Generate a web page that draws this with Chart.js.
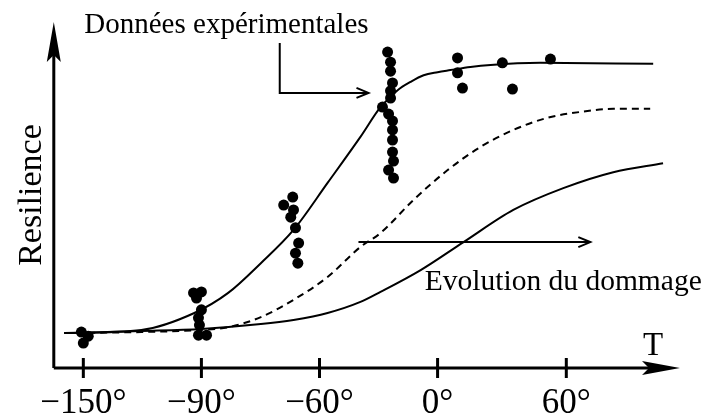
<!DOCTYPE html>
<html>
<head>
<meta charset="utf-8">
<script src="https://cdn.jsdelivr.net/npm/chart.js@4"></script>
<style>
  body { margin: 0; background: #fff; }
  #wrap { width: 702px; height: 417px; }
</style>
</head>
<body>
<div id="wrap"><canvas id="resChart"></canvas></div>
<script>
// temperature axis (schematic, ticks are evenly spaced but not linear in degrees)
const tickDeg = [-150, -90, -60, 0, 60];
const tickLabels = ['\u2212150\u00b0', '\u221290\u00b0', '\u221260\u00b0', '0\u00b0', '60\u00b0'];
const tickSlot = [0, 1, 2, 3, 4.09];

// experimental points [T, resilience]
const expT = [-151, -147.5, -150,
  -94, -90, -92.5, -90, -91.5, -91, -91.5, -88.7,
  -66.8, -69.1, -66.6, -67.3, -66.1, -65.3, -66.1, -65.5,
  -25.4, -23.9, -23.9, -22.9, -23.9, -23.9, -28, -24.9, -22.9, -22.9, -22.9, -22.9, -22.4, -24.9, -22.4,
  9.3, 9.3, 11.6, 30.2, 34.9, 52.6];
const expR = [10.4, 9.2, 7.2,
  21.7, 22.0, 20.2, 16.8, 14.5, 12.4, 9.5, 9.5,
  49.4, 47.1, 45.7, 43.6, 40.5, 36.1, 33.2, 30.3,
  91.3, 88.4, 85.8, 82.4, 80.1, 78.0, 75.4, 73.4, 71.4, 68.8, 65.9, 62.4, 59.8, 57.2, 54.9,
  89.6, 85.3, 80.9, 88.2, 80.6, 89.3];

// fitted curve through the data
const fitT = [-159.7, -120.5, -93.6, -83.2, -74.9, -66.6, -55.9, -39.2, -29, -23.9, -20.3, -13.7, -7.1, 0, 6, 15.3, 24.7, 47.9, 100.5];
const fitR = [10.1, 11.0, 15.9, 21.7, 30.3, 39.9, 53.5, 66.8, 75.4, 78.3, 80.3, 82.7, 84.6, 85.5, 86.1, 87.0, 87.6, 88.2, 87.9];

// intermediate damage (dashed)
const midT = [-159.7, -120.5, -90, -83.2, -74.9, -66.6, -55.9, -39.2, -29, -12.2, 4.7, 20, 35.3, 51.2, 66.5, 81.9, 99.1];
const midR = [10.1, 10.4, 11.0, 11.8, 14.7, 19.7, 26.3, 35.0, 39.0, 48.6, 57.2, 63.9, 68.8, 72.3, 74.0, 74.9, 74.9];

// strong damage
const lowT = [-159.7, -120.5, -90, -74.9, -66.6, -55.9, -39.2, -29, -8.6, 12.1, 35.3, 58.6, 81.9, 105.1];
const lowR = [10.1, 10.7, 11.3, 12.7, 13.9, 15.9, 19.1, 22.0, 28.3, 36.4, 45.7, 52.0, 56.6, 59.2];

const toPts = (xs, ys) => xs.map((x, i) => ({ x: x, y: ys[i] }));

function toSlot(v) {
  let i = 0;
  while (i < tickDeg.length - 2 && v > tickDeg[i + 1]) i++;
  const f = (v - tickDeg[i]) / (tickDeg[i + 1] - tickDeg[i]);
  return tickSlot[i] + f * (tickSlot[i + 1] - tickSlot[i]);
}

class SchematicScale extends Chart.LinearScale {
  getPixelForValue(value) {
    const a = toSlot(this.min), b = toSlot(this.max);
    return this.getPixelForDecimal((toSlot(value) - a) / (b - a));
  }
}
SchematicScale.id = 'schematic';
SchematicScale.defaults = Chart.LinearScale.defaults;
Chart.register(SchematicScale);

const serif = 'Liberation Serif';

const decorations = {
  id: 'decorations',
  afterDraw(chart) {
    const ctx = chart.ctx;
    const xs = chart.scales.x, ys = chart.scales.y;
    const X = v => xs.getPixelForValue(v);
    const Y = v => ys.getPixelForValue(v);
    const ox = chart.chartArea.left, oy = chart.chartArea.bottom;
    const top = chart.chartArea.top, right = chart.chartArea.right;
    ctx.save();
    ctx.strokeStyle = '#000';
    ctx.fillStyle = '#000';

    // axes
    ctx.lineWidth = 3;
    ctx.beginPath();
    ctx.moveTo(ox, oy); ctx.lineTo(ox, top + 30);
    ctx.moveTo(ox, oy); ctx.lineTo(right - 30, oy);
    ctx.stroke();
    ctx.beginPath();
    ctx.moveTo(ox, top); ctx.lineTo(ox - 7, top + 40); ctx.lineTo(ox, top + 33); ctx.lineTo(ox + 7, top + 40);
    ctx.closePath(); ctx.fill();
    ctx.beginPath();
    ctx.moveTo(right, oy); ctx.lineTo(right - 38, oy - 7); ctx.lineTo(right - 31, oy); ctx.lineTo(right - 38, oy + 7);
    ctx.closePath(); ctx.fill();

    // tick marks across the axis
    ctx.lineWidth = 3;
    tickDeg.forEach(t => {
      ctx.beginPath();
      ctx.moveTo(X(t), oy - 10); ctx.lineTo(X(t), oy + 10);
      ctx.stroke();
    });

    // annotations
    ctx.font = '29px "' + serif + '"';
    ctx.textBaseline = 'alphabetic';
    ctx.textAlign = 'left';
    ctx.fillText('Donn\u00e9es exp\u00e9rimentales', X(-149.5), Y(96.8));
    ctx.font = '29.5px "' + serif + '"';
    ctx.fillText('Evolution du dommage', X(-6.5), Y(22.5));
    ctx.font = '33px "' + serif + '"';
    ctx.fillText('T', X(95.8), Y(3.76));

    ctx.lineWidth = 2;
    ctx.beginPath();
    ctx.moveTo(X(-70.1), Y(93.9)); ctx.lineTo(X(-70.1), Y(79.5)); ctx.lineTo(X(-35.1), Y(79.5));
    ctx.moveTo(X(-40.2), Y(36.4)); ctx.lineTo(X(71.2), Y(36.4));
    ctx.stroke();
    [[X(-35.1), Y(79.5)], [X(71.2), Y(36.4)]].forEach(([hx, hy]) => {
      ctx.beginPath();
      ctx.moveTo(hx - 12, hy - 5); ctx.lineTo(hx, hy); ctx.lineTo(hx - 12, hy + 5);
      ctx.stroke();
    });
    ctx.restore();
  }
};

const lineStyle = {
  showLine: true,
  pointRadius: 0,
  borderColor: '#000',
  borderWidth: 2,
  fill: false,
  cubicInterpolationMode: 'monotone'
};

const ctx = document.getElementById('resChart').getContext('2d');
const resChart = new Chart(ctx, {
  type: 'scatter',
  data: {
    datasets: [
      Object.assign({ label: 'Ajustement', data: toPts(fitT, fitR) }, lineStyle),
      Object.assign({ label: 'Dommage 1', data: toPts(midT, midR), borderDash: [7, 5] }, lineStyle),
      Object.assign({ label: 'Dommage 2', data: toPts(lowT, lowR) }, lineStyle),
      {
        label: 'Donn\u00e9es exp\u00e9rimentales',
        data: toPts(expT, expR),
        pointRadius: 5.5,
        pointBackgroundColor: '#000',
        pointBorderWidth: 0,
        showLine: false
      }
    ]
  },
  options: {
    responsive: true,
    maintainAspectRatio: false,
    animation: false,
    events: [],
    layout: { padding: { top: 22, right: 22, left: 12, bottom: 0 } },
    plugins: { legend: { display: false }, tooltip: { enabled: false } },
    scales: {
      x: {
        type: 'schematic',
        min: -165,
        max: 113,
        grid: { display: false, drawTicks: false },
        border: { display: false },
        afterBuildTicks: scale => { scale.ticks = tickDeg.map(v => ({ value: v })); },
        afterFit: scale => { scale.height = 49; },
        ticks: {
          autoSkip: false,
          maxRotation: 0,
          padding: 18,
          color: '#000',
          font: { family: serif, size: 35, lineHeight: 1.0 },
          callback: value => tickLabels[tickDeg.indexOf(value)]
        }
      },
      y: {
        min: 0,
        max: 100,
        grid: { display: false, drawTicks: false },
        border: { display: false },
        ticks: { display: false },
        title: {
          display: true,
          text: 'Resilience',
          color: '#000',
          font: { family: serif, size: 34, lineHeight: 1.2 },
          padding: { top: 0, bottom: 1 }
        }
      }
    }
  },
  plugins: [decorations]
});
</script>
</body>
</html>
